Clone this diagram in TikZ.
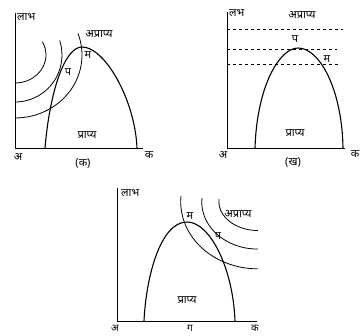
\documentclass[tikz,border=0pt]{standalone}
\usepackage{fontspec}
\newfontfamily\hindi[Script=Devanagari]{Noto Sans}
\begin{document}
\begin{tikzpicture}[x=1pt,y=1pt,
  every node/.style={font=\hindi\fontsize{11}{12}\selectfont,inner sep=1pt},
  ax/.style={line width=0.9pt},
  crv/.style={line width=1.1pt},
  ic/.style={line width=0.8pt},
  lvl/.style={dashed,line width=0.8pt},
  foot/.style={anchor=base,font=\hindi\fontsize{10}{11}\selectfont}
]
\useasboundingbox (0,0) rectangle (363,336);
% panel (k)
\coordinate (ytopA) at (15,323);
\coordinate (oA) at (15,188);
\coordinate (xendA) at (143,188);
\draw[ax] (ytopA) -- (oA) -- (xendA);
\draw[crv] (45,188) .. controls (50,246) and (65,289) .. (82,289)
  .. controls (105,289) and (135,236) .. (137,188);
\draw[ic] (15,253) arc[start angle=-90,end angle=28,x radius=31pt,y radius=28pt];
\draw[ic] (15,234) arc[start angle=-90,end angle=18,x radius=47pt,y radius=47pt];
\draw[ic] (15,218) arc[start angle=-90,end angle=20,x radius=67pt,y radius=63pt];
\node[anchor=west] (labhA) at (16,319) {लाभ};
\node (aA) at (18,179) {अ};
\node (kA) at (149,181) {क};
\node (capA) at (83,173) {(क)};
\node (prA) at (87,201) {प्राप्य};
\node (aprA) at (99,302) {अप्राप्य};
\node (mA) at (88,281) {म};
\node (pA) at (68,264) {प};
% panel (kh)
\coordinate (ytopB) at (227,324);
\coordinate (oB) at (227,188);
\coordinate (xendB) at (345,188);
\draw[ax] (ytopB) -- (oB) -- (xendB);
\draw[lvl] (227,307) -- (343,307);
\draw[lvl] (227,287) -- (337,287);
\draw[lvl] (227,272) -- (338,272);
\draw[crv] (255,188) .. controls (257,251) and (280,288) .. (298,288)
  .. controls (320,288) and (342,246) .. (343,188);
\node[anchor=west] (labhB) at (228,323) {लभ};
\node (aprB) at (302,321) {अप्राप्य};
\node (pB) at (295,297) {प};
\node (mB) at (327,277) {म};
\node (prB) at (295,203) {प्राप्य};
\node (aB) at (223,181) {अ};
\node (kB) at (355,182) {क};
\node (capB) at (293,174) {(ख)};
% panel (g)
\coordinate (ytopC) at (117,148);
\coordinate (oC) at (117,15);
\coordinate (xendC) at (257,15);
\draw[ax] (ytopC) -- (oC) -- (xendC);
\draw[crv] (144,15) .. controls (146,58) and (160,114) .. (187,114)
  .. controls (210,114) and (233,68) .. (235,15);
\draw[ic] (219,137) arc[start angle=175,end angle=270,x radius=39pt,y radius=29pt];
\draw[ic] (202,138) arc[start angle=175,end angle=270,x radius=56pt,y radius=47pt];
\draw[ic] (181,140) arc[start angle=175,end angle=270,x radius=77pt,y radius=67pt];
\node[anchor=west] (labhC) at (120,143) {लाभ};
\node (prC) at (187,36) {प्राप्य};
\node (mC) at (190,120) {म};
\node (pC) at (218,100) {प};
\node (aprC) at (238,122) {अप्राप्य};
\node[foot] (aC) at (115,4) {अ};
\node[foot] (gC) at (190,4) {ग};
\node[foot] (kC) at (255,4) {क};
\end{tikzpicture}
\end{document}
